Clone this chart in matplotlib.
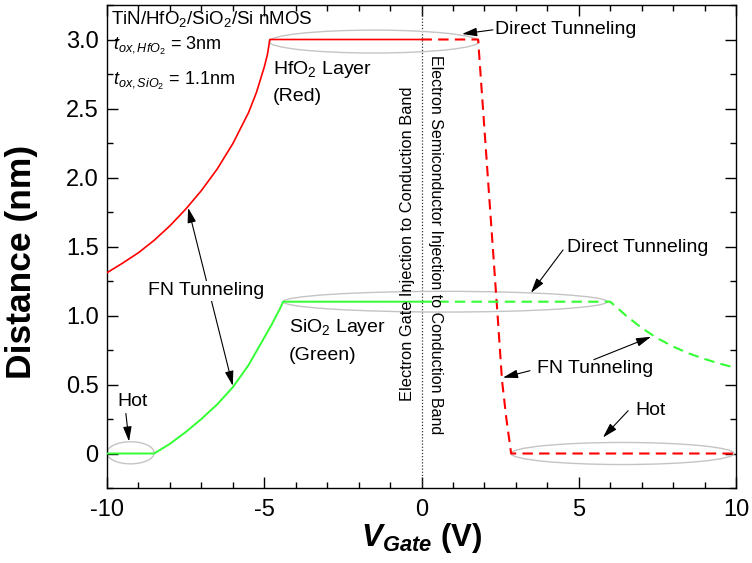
import matplotlib
matplotlib.use("Agg")
import matplotlib.pyplot as plt
from matplotlib.patches import Ellipse
from matplotlib.ticker import MultipleLocator, FixedLocator

plt.rcParams['font.family'] = ['Liberation Sans', 'DejaVu Sans']
plt.rcParams['mathtext.fontset'] = 'custom'
plt.rcParams['mathtext.rm'] = 'Liberation Sans'
plt.rcParams['mathtext.it'] = 'Liberation Sans:italic'
plt.rcParams['mathtext.bf'] = 'Liberation Sans:bold'
plt.rcParams['mathtext.bfit'] = 'Liberation Sans:italic:bold'

# HfO2 layer (red): gate injection (solid) and semiconductor injection (dashed)
hfo2_gate_v = [-10, -9.5, -9, -8.5, -8, -7.5, -7, -6.5, -6, -5.5, -5.25, -5.0, -4.9, -4.85, -4.82, 0]
hfo2_gate_d = [1.31, 1.38, 1.455, 1.545, 1.65, 1.77, 1.905, 2.06, 2.245, 2.47, 2.615, 2.80, 2.89, 2.96, 3.0, 3.0]
hfo2_semi_v = [0, 1.80, 2.11, 2.42, 2.56, 2.70, 2.85, 10]
hfo2_semi_d = [3.0, 3.0, 2.0, 1.0, 0.53, 0.25, 0.0, 0.0]

# SiO2 layer (green)
sio2_gate_v = [-10, -8.5, -8, -7.5, -7, -6.5, -6, -5.5, -5, -4.75, -4.5, -4.4, 0]
sio2_gate_d = [0, 0, 0.07, 0.155, 0.25, 0.355, 0.48, 0.64, 0.84, 0.94, 1.05, 1.10, 1.10]
sio2_semi_v = [0, 6.0, 6.5, 7.0, 7.5, 8.0, 8.5, 9.0, 9.5, 10]
sio2_semi_d = [1.10, 1.10, 1.00, 0.91, 0.835, 0.775, 0.725, 0.685, 0.65, 0.62]

x_ticks = [-10, -5, 0, 5, 10]
x_tick_labels = ['-10', '-5', '0', '5', '10']
y_ticks = [0, 0.5, 1.0, 1.5, 2.0, 2.5, 3.0]
y_tick_labels = ['0', '0.5', '1.0', '1.5', '2.0', '2.5', '3.0']

RED = '#ff0000'
GREEN = '#33ff33'
GREY = '#c4c4c4'

fig = plt.figure(figsize=(7.52, 5.63), dpi=100)
ax = fig.add_axes([107 / 752, 75 / 563, 629 / 752, 483 / 563])

ax.plot(hfo2_gate_v, hfo2_gate_d, color=RED, lw=1.2, zorder=3)
ax.plot(hfo2_semi_v, hfo2_semi_d, color=RED, lw=1.5, ls=(0, (5, 3)), zorder=3)
ax.plot(sio2_gate_v, sio2_gate_d, color=GREEN, lw=1.4, zorder=3)
ax.plot(sio2_semi_v, sio2_semi_d, color=GREEN, lw=1.5, ls=(0, (5, 3)), zorder=3)

ax.axvline(0, color='#333333', lw=0.9, ls=(0, (1, 1.5)), zorder=2)

# grey outlines marking the tunneling / hot-carrier regions
for (cx, cy, w, h) in [(-1.51, 2.985, 6.68, 0.166), (0.75, 1.10, 10.3, 0.15),
                       (-9.25, 0.005, 1.5, 0.16), (6.39, 0.0, 7.09, 0.16)]:
    ax.add_patch(Ellipse((cx, cy), w, h, fill=False, edgecolor=GREY, lw=1.0, zorder=2))

ax.set_xlim(-10, 10)
ax.set_ylim(-0.25, 3.25)
ax.xaxis.set_major_locator(FixedLocator(x_ticks))
ax.set_xticklabels(x_tick_labels)
ax.yaxis.set_major_locator(FixedLocator(y_ticks))
ax.set_yticklabels(y_tick_labels)
ax.xaxis.set_minor_locator(MultipleLocator(1))
ax.yaxis.set_minor_locator(MultipleLocator(0.25))
ax.tick_params(which='both', direction='in', top=True, right=True, width=1.0)
ax.tick_params(which='major', length=8, labelsize=17)
ax.tick_params(axis='x', which='major', pad=8)
ax.tick_params(axis='y', which='major', pad=6)
ax.tick_params(which='minor', length=4)
for s in ax.spines.values():
    s.set_linewidth(1.0)

ax.set_xlabel(r'$\mathbfit{V}_{\mathbfit{Gate}}\ \mathbf{(V)}$', fontsize=22.5, labelpad=0)
fig.text(22 / 752, 1 - 262 / 563, 'Distance (nm)', fontsize=25.5, fontweight='bold',
         rotation=90, ha='center', va='center')

fs = 14
ax.text(-9.87, 3.15, r'TiN/HfO$_2$/SiO$_2$/Si nMOS', fontsize=13.5, va='center')
ax.text(-9.81, 2.95, r'$t_{ox,HfO_2}$ = 3nm', fontsize=13, va='center')
ax.text(-9.81, 2.70, r'$t_{ox,SiO_2}$ = 1.1nm', fontsize=13, va='center')
ax.text(-4.72, 2.78, r'HfO$_2$ Layer', fontsize=fs, va='center')
ax.text(-4.72, 2.59, '(Red)', fontsize=fs, va='center')
ax.text(-4.21, 0.91, r'SiO$_2$ Layer', fontsize=fs, va='center')
ax.text(-4.21, 0.71, '(Green)', fontsize=fs, va='center')
ax.text(-6.85, 1.18, 'FN Tunneling', fontsize=fs, va='center', ha='center', zorder=5,
        bbox=dict(facecolor='white', edgecolor='none', pad=1))
ax.text(5.51, 0.615, 'FN Tunneling', fontsize=fs, va='center', ha='center')
ax.text(2.34, 3.07, 'Direct Tunneling', fontsize=fs, va='center')
ax.text(4.63, 1.49, 'Direct Tunneling', fontsize=fs, va='center')
ax.text(-9.68, 0.38, 'Hot', fontsize=fs, va='center')
ax.text(6.79, 0.31, 'Hot', fontsize=fs, va='center')
ax.text(-0.46, 1.52, 'Electron Gate Injection to Conduction Band', fontsize=11.8,
        rotation=90, ha='center', va='center')
ax.text(0.43, 1.51, 'Electron Semiconductor Injection to Conduction Band', fontsize=11.5,
        rotation=-90, ha='center', va='center')

arrow = dict(arrowstyle='-|>,head_length=0.45,head_width=0.13', color='black', lw=0.8,
             shrinkA=0, shrinkB=0, mutation_scale=20)
pointers = [((2.27, 3.07), (1.29, 3.04)),
            ((4.50, 1.475), (3.48, 1.164)),
            ((3.45, 0.60), (2.59, 0.55)),
            ((5.48, 0.68), (7.30, 0.846)),
            ((-9.40, 0.29), (-9.30, 0.087)),
            ((6.57, 0.31), (5.77, 0.116))]
for start, end in pointers:
    ax.annotate('', xy=end, xytext=start, arrowprops=arrow, zorder=4)

both = dict(arrow, arrowstyle='<|-|>,head_length=0.45,head_width=0.13')
ax.annotate('', xy=(-6.0, 0.49), xytext=(-7.42, 1.78), arrowprops=both, zorder=4)

fig.savefig('out.png', dpi=100)
